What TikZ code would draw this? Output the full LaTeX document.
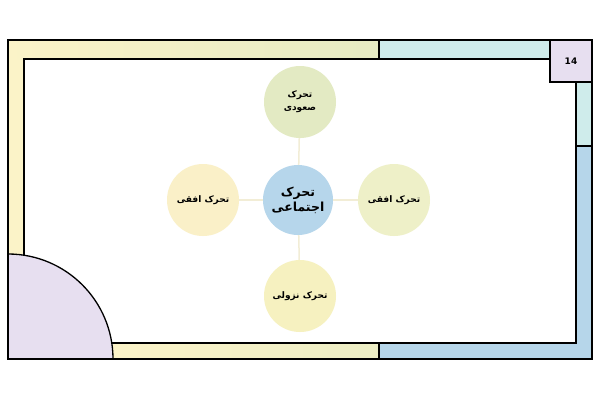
\documentclass[tikz,border=0pt]{standalone}
\usepackage{fontspec}
\usepackage{tikz}
\newfontfamily\arabicfont[Script=Arabic]{DejaVu Sans}
\newfontfamily\digitfont{DejaVu Sans}
\TeXXeTstate=1
\definecolor{bandyellow}{HTML}{FBF3C8}
\definecolor{bandgreen}{HTML}{E6EBC3}
\definecolor{bandcyan}{HTML}{CFECEB}
\definecolor{bandblue}{HTML}{B6D6EA}
\definecolor{cornerpurple}{HTML}{E7DFF0}
\definecolor{risegreen}{HTML}{E3EAC3}
\definecolor{sideyellow}{HTML}{FAF0C8}
\definecolor{sidegreen}{HTML}{EEF0C8}
\definecolor{fallyellow}{HTML}{F6F1C0}
\definecolor{socialblue}{HTML}{B6D6EB}
\definecolor{linkcol}{HTML}{F2EDD6}

\begin{document}
\begin{tikzpicture}[x=1pt,y=-1pt,
    bubble/.style={circle,minimum size=72pt,inner sep=0pt,align=center,font=\arabicfont\bfseries\fontsize{9}{13}\selectfont},
    link/.style={draw=linkcol,line width=1.5pt}]
    \fill[white] (0,0) rectangle (600,400); % page
    \useasboundingbox (0,0) rectangle (600,400);
    \fill[bandyellow] (8,40) rectangle (24,254); % left band
    \shade[left color=bandyellow,right color=bandgreen] (8,40) rectangle (379,59); % top band
    \fill[bandcyan] (379,40) rectangle (550,59); \fill[bandcyan] (576,82) rectangle (592,146); % cyan bands
    \fill[bandblue] (576,146) rectangle (592,359); \fill[bandblue] (379,343) rectangle (592,359); % blue bands
    \shade[left color=bandyellow,right color=bandgreen!70!bandyellow] (113,343) rectangle (379,359); % bottom band
    \fill[cornerpurple] (550,40) rectangle (592,82); % page box
    \fill[cornerpurple] (8,359) -- (8,254) arc[start angle=90,end angle=0,radius=105pt] -- cycle; % quarter
    \draw[line width=1.3pt] (8,40) rectangle (592,359); % outer frame
    \draw[line width=1.3pt] (24,255) -- (24,59) -- (550,59); % inner frame
    \draw[line width=1.3pt] (576,82) -- (576,343) -- (112,343);
    \draw[line width=1.3pt] (8,254) arc[start angle=90,end angle=0,radius=105pt]; % arc
    \draw[line width=1.3pt] (379,40) -- (379,59); \draw[line width=1.3pt] (379,343) -- (379,359); % dividers
    \draw[line width=1.3pt] (550,40) -- (550,82) -- (592,82); \draw[line width=1.3pt] (576,146) -- (592,146);
    \node[font=\digitfont\bfseries\fontsize{9}{11}\selectfont] (page) at (571,61) {14};

    \node[bubble,fill=socialblue,minimum size=70pt,font=\arabicfont\bfseries\fontsize{12.5}{15}\selectfont] (social) at (298,200) {\beginR تحرک\endR\\\beginR اجتماعی\endR};
    \node[bubble,fill=risegreen] (rise) at (300,102) {\beginR تحرک\endR\\\beginR صعودی\endR};
    \node[bubble,fill=sideyellow] (lefthz) at (203,200) {\beginR تحرک افقی\endR};
    \node[bubble,fill=sidegreen] (righthz) at (394,200) {\beginR تحرک افقی\endR};
    \node[bubble,fill=fallyellow] (fall) at (300,296) {\beginR تحرک نزولی\endR};

    \draw[link] (social) -- (rise); \draw[link] (social) -- (fall); % vertical links
    \draw[link] (social) -- (lefthz); \draw[link] (social) -- (righthz); % horizontal links
\end{tikzpicture}
\end{document}
